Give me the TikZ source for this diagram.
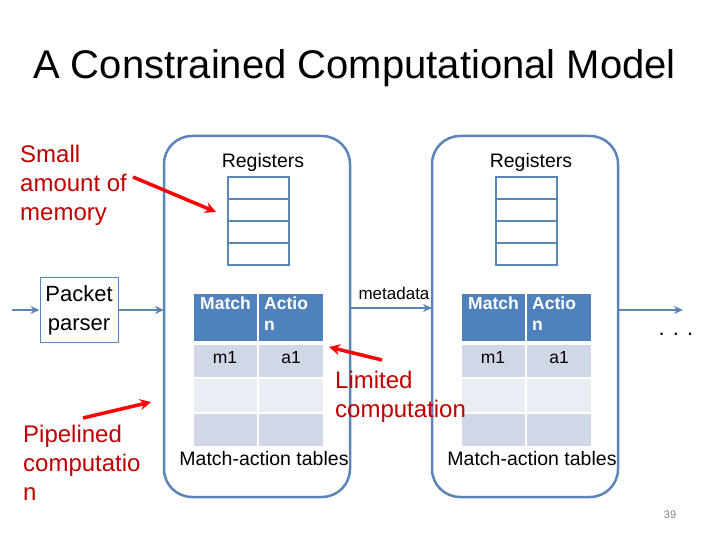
\documentclass[tikz,border=0pt]{standalone}
\usepackage{fontspec}
\setmainfont{Liberation Sans}
\usetikzlibrary{arrows.meta}
\definecolor{bl}{HTML}{4F81BD}
\definecolor{bx}{HTML}{5B84B8}
\definecolor{r1}{HTML}{D0D8E8}
\definecolor{r2}{HTML}{E9EDF4}
\definecolor{dred}{HTML}{C00000}
\begin{document}
\begin{tikzpicture}[x=1pt,y=-1pt,
  stage/.style={draw=bx,line width=2.5pt,rounded corners=28pt},
  reg/.style={draw=bx,line width=2pt},
  flow/.style={draw=bx,line width=2.5pt,-{Stealth[length=9pt,width=8pt]}},
  red/.style={draw=red,line width=3.5pt,-{Stealth[length=11pt,width=11pt]}},
  rtxt/.style={text=dred,font=\fontsize{24}{29}\selectfont,align=left,anchor=north west,inner sep=0},
  btxt/.style={font=\fontsize{19.5}{20}\selectfont},
  hd/.style={fill=bl,text=white,font=\bfseries\fontsize{17.5}{21}\selectfont,align=left,anchor=north west,inner sep=0},
  cell/.style={font=\fontsize{17.5}{18}\selectfont,anchor=base},
  ]
\useasboundingbox (0,0) rectangle (720,540);
\node[anchor=west,font=\fontsize{40}{44}\selectfont,inner sep=0] (title) at (33,68) {A Constrained Computational Model};
\node[text=gray,font=\fontsize{11}{12}\selectfont] (pg) at (670,515) {39};
% stages
\foreach \s/\x in {a/164,b/432}{
  \draw[stage] (\x,136) rectangle ++(186,361);
  \node[btxt] (reg\s) at (\x+99,162) {Registers};
  \foreach \i in {0,1,2,3}{\draw[reg] (\x+64,177+22*\i) rectangle ++(61,22);}
  \fill[bl] (\x+30,294) rectangle ++(63,47);
  \fill[bl] (\x+95,294) rectangle ++(64,47);
  \node[hd] (m\s) at (\x+36,297) {Match};
  \node[hd] (ac\s) at (\x+100,297) {Actio\\n};
  \fill[r1] (\x+30,345) rectangle ++(63,32); \fill[r1] (\x+95,345) rectangle ++(64,32);
  \fill[r2] (\x+30,379) rectangle ++(63,33); \fill[r2] (\x+95,379) rectangle ++(64,33);
  \fill[r1] (\x+30,414) rectangle ++(63,32); \fill[r1] (\x+95,414) rectangle ++(64,32);
  \node[cell] (m1\s) at (\x+61,363) {m1};
  \node[cell] (a1\s) at (\x+127,363) {a1};
  \node[btxt] (mat\s) at (\x+100,459) {Match-action tables};
}
\node[draw=bx,line width=1pt,minimum width=78pt,minimum height=65pt,align=center,font=\fontsize{22}{29}\selectfont,inner sep=0] (pp) at (79,310) {Packet\\parser};
\coordinate (in) at (12,310);
\coordinate (sa) at (164,310);
\coordinate (sae) at (350,308);
\coordinate (sb) at (432,308);
\coordinate (sbe) at (618,310);
\coordinate (out) at (683,310);
\draw[flow] (in) -- (pp.west);
\draw[flow] (pp.east) -- (sa);
\draw[flow] (sae) -- (sb);
\draw[flow] (sbe) -- (out);
\node[font=\fontsize{17}{18}\selectfont] (meta) at (394,293) {metadata};
\node[font=\fontsize{22}{22}\selectfont] (dots) at (676,334) {. . .};
% red annotations
\node[rtxt] (small) at (20,145) {Small\\amount of\\memory};
\node[rtxt] (pipe) at (23,425) {Pipelined\\computatio\\n};
\node[rtxt] (lim) at (335,371) {Limited\\computation};
\coordinate (s1) at (133,177); \coordinate (s2) at (216,212);
\coordinate (l1) at (382,360); \coordinate (l2) at (329,347);
\coordinate (p1) at (83,418); \coordinate (p2) at (151,402);
\draw[red] (s1) -- (s2);
\draw[red] (l1) -- (l2);
\draw[red] (p1) -- (p2);
\end{tikzpicture}
\end{document}
